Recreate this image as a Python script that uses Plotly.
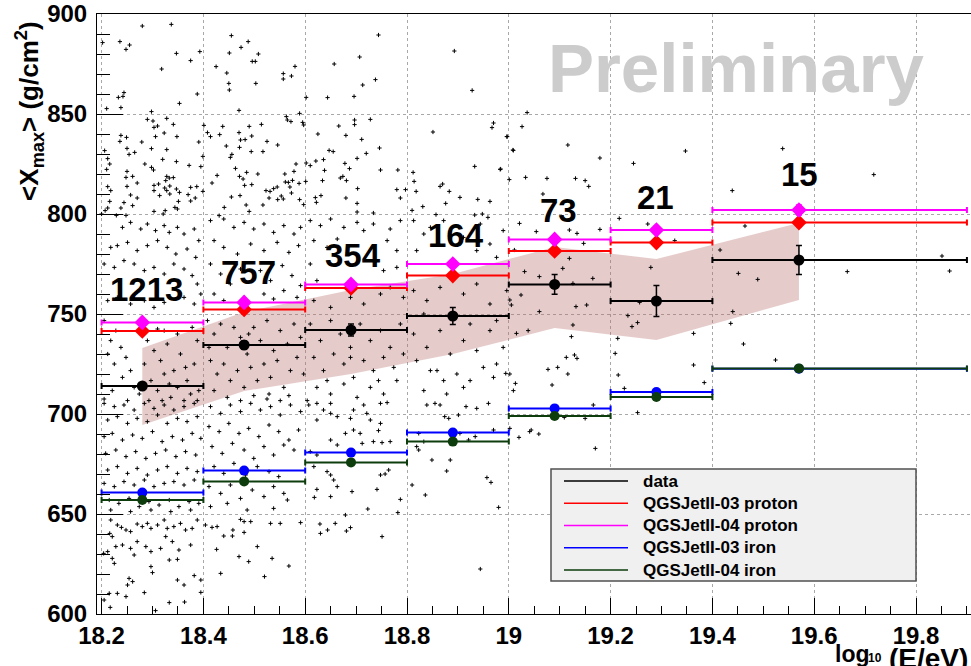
import plotly.graph_objects as go

# ---------------- data ----------------
bin_edges = [18.2, 18.4, 18.6, 18.8, 19.0, 19.2, 19.4, 19.9]
bin_centers = [18.28, 18.48, 18.69, 18.89, 19.09, 19.29, 19.57]
n_events = ["1213", "757", "354", "164", "73", "21", "15"]
label_x = [18.288, 18.488, 18.693, 18.897, 19.097, 19.289, 19.571]
label_y = [762.5, 770.7, 779.2, 789.2, 801.7, 808.2, 820.0]

data_xmax = [714.0, 734.5, 742.0, 749.0, 764.8, 756.5, 777.0]
data_err = [1.5, 2.0, 3.0, 4.3, 4.9, 7.8, 7.3]
qgs03_proton = [741.5, 752.3, 763.0, 769.2, 781.5, 785.7, 795.7]
qgs03_proton_err = [1.5, 1.5, 1.5, 1.5, 1.5, 1.5, 2.0]
qgs04_proton = [745.8, 755.8, 764.8, 775.0, 787.3, 792.0, 802.0]
qgs04_proton_err = [1.5, 1.5, 1.5, 1.5, 1.5, 1.5, 2.5]
qgs03_iron = [660.7, 671.7, 680.7, 690.7, 702.8, 711.0, 722.6]
qgs04_iron = [657.0, 666.3, 675.8, 686.2, 699.0, 708.5, 722.8]

band_x = [18.28, 18.48, 18.69, 18.89, 19.09, 19.29, 19.57]
band_hi = [733.0, 751.0, 762.0, 770.0, 783.5, 777.5, 795.5]
band_lo = [694.5, 711.5, 720.0, 730.0, 743.0, 737.0, 757.0]

x_tick_vals = [18.2, 18.4, 18.6, 18.8, 19.0, 19.2, 19.4, 19.6, 19.8]
x_tick_text = ["18.2", "18.4", "18.6", "18.8", "19", "19.2", "19.4", "19.6", "19.8"]
y_tick_vals = [600, 650, 700, 750, 800, 850, 900]

legend_names = ["data", "QGSJetII-03 proton", "QGSJetII-04 proton",
                "QGSJetII-03 iron", "QGSJetII-04 iron"]
legend_colors = ["#000000", "#ff0000", "#ff00ff", "#0000ff", "#0d3d0d"]

# individual events (log10 E, Xmax)
events_high = [
    (18.280, 894.0), (18.337, 894.8), (18.202, 885.7), (18.236, 886.2), (18.248, 882.3),
    (18.255, 884.5), (18.347, 880.3), (18.318, 872.5), (18.375, 876.7), (18.393, 881.2),
    (18.233, 858.3), (18.242, 858.8), (18.244, 860.7), (18.388, 860.0), (18.353, 855.3),
    (18.210, 852.7), (18.238, 853.2), (18.455, 889.2), (18.488, 886.2), (18.474, 883.3),
    (18.451, 880.5), (18.508, 880.0), (18.496, 876.3), (18.502, 876.3), (18.425, 873.7),
    (18.446, 870.5), (18.450, 865.3), (18.451, 862.0), (18.503, 865.3), (18.557, 870.2),
    (18.557, 867.5), (18.573, 869.0), (18.580, 873.8), (18.470, 851.8), (18.589, 850.3),
    (18.744, 889.5), (18.707, 878.5), (18.657, 875.0), (18.713, 864.5), (18.738, 867.2),
    (18.696, 858.8), (18.644, 858.2), (18.602, 858.3), (18.893, 881.5), (18.928, 861.8),
    (19.036, 850.7), (19.026, 843.7), (18.996, 838.7), (19.008, 832.0), (19.116, 834.5),
    (19.179, 828.0), (18.984, 822.5), (19.033, 818.3), (19.075, 817.8), (19.131, 817.8),
    (19.150, 816.7), (19.157, 813.8), (19.067, 810.0), (19.245, 825.3), (19.347, 831.5),
    (19.538, 832.7), (19.717, 819.7), (19.439, 811.7),
]
events_800_850 = [
    (18.290, 847.3), (18.298, 851.2), (18.301, 846.5), (18.303, 843.3), (18.310, 844.0),
    (18.328, 847.8), (18.341, 844.8), (18.323, 840.5), (18.306, 838.7), (18.348, 838.7),
    (18.238, 839.3), (18.249, 838.3), (18.236, 836.3), (18.279, 836.0), (18.206, 831.7),
    (18.250, 832.8), (18.254, 829.8), (18.265, 830.8), (18.298, 832.7), (18.328, 832.2),
    (18.212, 827.7), (18.216, 825.0), (18.210, 822.3), (18.320, 827.3), (18.347, 826.2),
    (18.285, 825.0), (18.298, 823.3), (18.302, 822.0), (18.372, 824.3), (18.395, 823.7),
    (18.391, 836.0), (18.399, 828.8), (18.401, 844.3), (18.250, 821.3), (18.248, 818.3),
    (18.261, 818.8), (18.270, 815.5), (18.250, 813.8), (18.212, 813.7), (18.218, 811.7),
    (18.257, 809.5), (18.270, 808.0), (18.261, 804.2), (18.244, 805.7), (18.238, 803.0),
    (18.216, 806.3), (18.207, 801.7), (18.212, 803.0), (18.303, 814.3), (18.312, 815.0),
    (18.328, 818.8), (18.333, 818.0), (18.341, 818.2), (18.326, 816.7), (18.303, 811.7),
    (18.324, 813.0), (18.328, 811.7), (18.334, 814.0), (18.334, 810.0), (18.314, 809.2),
    (18.347, 812.5), (18.353, 810.8), (18.351, 806.3), (18.344, 803.3), (18.349, 802.5),
    (18.303, 801.3), (18.325, 801.7), (18.370, 809.7), (18.375, 813.3), (18.387, 813.7),
    (18.384, 808.0), (18.375, 806.5), (18.399, 811.3), (18.229, 799.3), (18.248, 799.3),
    (18.200, 800.0), (18.321, 800.0),
    (18.408, 840.7), (18.414, 838.7), (18.432, 839.7), (18.438, 843.8), (18.445, 834.0),
    (18.456, 829.8), (18.453, 828.3), (18.470, 840.7), (18.473, 837.0), (18.482, 837.2),
    (18.471, 833.3), (18.490, 843.8), (18.495, 839.0), (18.494, 831.2), (18.514, 844.8),
    (18.517, 831.2), (18.525, 836.3), (18.546, 834.5), (18.563, 848.7), (18.565, 847.0),
    (18.572, 846.2), (18.595, 845.8), (18.597, 844.5), (18.463, 822.8), (18.485, 820.8),
    (18.507, 820.0), (18.471, 818.8), (18.478, 817.5), (18.481, 814.3), (18.495, 814.7),
    (18.427, 819.3), (18.417, 815.5), (18.455, 808.5), (18.472, 809.2), (18.441, 803.3),
    (18.431, 799.2), (18.484, 804.5), (18.490, 801.3), (18.517, 804.5), (18.523, 811.7),
    (18.529, 808.0), (18.531, 811.3), (18.538, 812.7), (18.545, 813.5), (18.546, 807.2),
    (18.553, 809.0), (18.557, 807.5), (18.573, 810.5), (18.561, 816.0), (18.567, 815.8),
    (18.570, 813.5), (18.575, 816.8), (18.578, 821.3), (18.582, 825.0), (18.588, 815.3),
    (18.589, 807.2), (18.597, 804.7), (18.560, 820.0),
    (18.602, 825.5), (18.610, 824.2), (18.621, 826.5), (18.625, 840.0), (18.636, 827.2),
    (18.638, 821.8), (18.647, 831.8), (18.655, 831.2), (18.666, 844.0), (18.680, 839.3),
    (18.687, 822.7), (18.678, 825.3), (18.669, 818.0), (18.674, 818.8), (18.681, 816.7),
    (18.680, 808.0), (18.702, 827.8), (18.703, 812.7), (18.697, 847.0), (18.697, 844.7),
    (18.711, 837.3), (18.720, 830.3), (18.728, 847.3), (18.746, 833.0), (18.748, 822.0),
    (18.782, 822.0), (18.601, 816.3), (18.620, 808.2), (18.622, 805.8), (18.631, 809.2),
    (18.634, 816.7), (18.702, 805.3), (18.702, 801.0), (18.734, 800.5), (18.780, 812.2),
    (18.787, 808.0), (18.797, 812.2),
    (18.812, 820.8), (18.814, 816.3), (18.818, 811.3), (18.810, 801.8), (18.831, 803.7),
    (18.851, 841.0), (18.865, 813.8), (18.870, 815.0), (18.876, 805.3), (18.883, 811.3),
    (18.904, 808.3), (18.933, 823.8), (18.939, 807.3), (18.963, 806.3), (18.967, 843.2),
    (18.970, 845.5), (18.983, 822.3), (18.997, 838.7), (19.009, 831.8), (19.001, 817.2),
    (18.857, 799.7), (18.933, 799.5), (18.948, 800.0), (18.959, 798.3),
]
events_700_800 = [
    (18.241, 793.3), (18.257, 795.8), (18.277, 792.5), (18.290, 795.0), (18.306, 791.7),
    (18.323, 794.2), (18.333, 790.8), (18.349, 793.3), (18.362, 790.0), (18.382, 792.5),
    (18.391, 786.7), (18.218, 783.3), (18.231, 784.2), (18.251, 785.8), (18.270, 781.7),
    (18.290, 784.2), (18.310, 786.7), (18.329, 783.3), (18.346, 780.0), (18.368, 782.5),
    (18.385, 778.3), (18.205, 775.0), (18.225, 773.3), (18.244, 776.7), (18.264, 775.0),
    (18.284, 771.7), (18.303, 773.3), (18.323, 770.0), (18.342, 775.0), (18.362, 772.5),
    (18.378, 769.2), (18.388, 765.0), (18.212, 756.7), (18.231, 758.3), (18.257, 755.0),
    (18.284, 756.7), (18.303, 753.3), (18.323, 755.8), (18.362, 758.3), (18.382, 755.0),
    (18.395, 760.0),
    (18.205, 746.7), (18.218, 736.7), (18.228, 741.7), (18.238, 733.3), (18.248, 728.3),
    (18.212, 730.0), (18.225, 725.0), (18.257, 721.7), (18.241, 718.3), (18.264, 713.3),
    (18.221, 711.7), (18.205, 707.5), (18.251, 706.7), (18.290, 736.7), (18.303, 731.7),
    (18.316, 726.7), (18.329, 735.0), (18.342, 721.7), (18.355, 730.0), (18.368, 716.7),
    (18.382, 725.0), (18.388, 736.7), (18.297, 716.7), (18.310, 711.7), (18.323, 720.0),
    (18.336, 708.3), (18.349, 713.3), (18.362, 706.7), (18.375, 710.0), (18.391, 711.7),
    (18.284, 725.0), (18.274, 710.0), (18.293, 706.7), (18.319, 706.7), (18.333, 715.0),
    (18.365, 723.3), (18.349, 740.0), (18.323, 741.7), (18.378, 743.3), (18.310, 742.5),
    (18.388, 706.7),
    (18.414, 796.7), (18.440, 797.5), (18.460, 793.3), (18.480, 795.8), (18.499, 792.5),
    (18.519, 795.0), (18.538, 790.8), (18.558, 794.2), (18.578, 790.0), (18.591, 793.3),
    (18.421, 786.7), (18.440, 783.3), (18.467, 780.0), (18.493, 785.0), (18.519, 781.7),
    (18.545, 785.8), (18.568, 780.8), (18.587, 784.2), (18.414, 775.0), (18.434, 770.0),
    (18.453, 765.0), (18.473, 772.5), (18.512, 771.7), (18.532, 766.7), (18.555, 774.2),
    (18.574, 769.2), (18.591, 764.2), (18.421, 760.0), (18.440, 756.7), (18.519, 760.0),
    (18.538, 757.5), (18.558, 761.7), (18.584, 758.3),
    (18.408, 746.7), (18.421, 740.0), (18.434, 745.0), (18.447, 733.3), (18.460, 743.3),
    (18.473, 738.3), (18.486, 730.0), (18.499, 743.3), (18.512, 736.7), (18.525, 746.7),
    (18.538, 731.7), (18.551, 741.7), (18.565, 735.0), (18.578, 745.0), (18.591, 738.3),
    (18.414, 726.7), (18.427, 720.0), (18.440, 725.0), (18.453, 716.7), (18.467, 721.7),
    (18.480, 713.3), (18.493, 723.3), (18.506, 716.7), (18.519, 725.0), (18.532, 718.3),
    (18.545, 726.7), (18.558, 713.3), (18.571, 721.7), (18.584, 728.3), (18.597, 720.0),
    (18.421, 711.7), (18.447, 708.3), (18.473, 706.7), (18.499, 709.2), (18.525, 707.5),
    (18.551, 706.7), (18.411, 733.3), (18.489, 740.0), (18.529, 710.0), (18.568, 709.2),
    (18.610, 796.7), (18.630, 794.2), (18.650, 797.5), (18.676, 793.3), (18.702, 795.8),
    (18.715, 791.7), (18.734, 795.0), (18.767, 792.5), (18.787, 796.7), (18.617, 786.7),
    (18.643, 783.3), (18.663, 787.5), (18.761, 786.7), (18.780, 781.7), (18.610, 775.0),
    (18.623, 766.7), (18.754, 771.7), (18.780, 773.3), (18.767, 763.3), (18.793, 758.3),
    (18.617, 756.7), (18.650, 753.3), (18.689, 758.3), (18.715, 755.0), (18.748, 760.0),
    (18.610, 745.0), (18.630, 736.7), (18.650, 746.7), (18.669, 740.0), (18.689, 733.3),
    (18.708, 745.0), (18.728, 736.7), (18.748, 741.7), (18.767, 733.3), (18.787, 745.0),
    (18.617, 728.3), (18.636, 721.7), (18.656, 730.0), (18.676, 725.0), (18.695, 718.3),
    (18.715, 726.7), (18.734, 721.7), (18.754, 728.3), (18.774, 723.3), (18.793, 730.0),
    (18.623, 713.3), (18.650, 710.0), (18.676, 715.0), (18.702, 708.3), (18.728, 713.3),
    (18.754, 710.0), (18.780, 716.7), (18.604, 706.7), (18.643, 716.7), (18.689, 728.3),
    (18.744, 716.7),
    (18.813, 796.7), (18.833, 790.0), (18.846, 793.3), (18.872, 796.7), (18.911, 788.3),
    (18.944, 795.0), (18.963, 785.0), (18.989, 791.7), (18.819, 781.7), (18.937, 781.7),
    (18.976, 778.3), (18.813, 761.7), (18.839, 756.7), (18.865, 763.3), (18.911, 760.0),
    (18.937, 765.0), (18.963, 755.0), (18.996, 761.7), (18.833, 750.0), (18.924, 745.0),
    (18.976, 746.7), (18.813, 740.0), (18.839, 733.3), (18.865, 741.7), (18.885, 730.0),
    (18.911, 736.7), (18.937, 731.7), (18.963, 741.7), (18.989, 733.3), (18.819, 726.7),
    (18.846, 721.7), (18.872, 716.7), (18.898, 720.0), (18.924, 716.7), (18.950, 723.3),
    (18.976, 725.0), (19.002, 720.0), (18.833, 711.7), (18.878, 710.0), (18.911, 713.3),
    (18.970, 718.3), (19.009, 711.7), (18.859, 721.7),
    (19.021, 795.3), (19.054, 791.2), (19.119, 792.0), (19.134, 790.3), (19.179, 792.3),
    (19.147, 785.3), (19.011, 782.0), (19.119, 777.8), (19.106, 772.8), (19.031, 771.2),
    (19.060, 768.7), (19.126, 765.3), (19.165, 767.8), (19.024, 759.5), (19.002, 757.0),
    (19.005, 754.5), (19.060, 751.2), (19.132, 753.7), (19.153, 754.5), (19.126, 744.5),
    (19.038, 741.7), (19.015, 740.3), (19.123, 738.7), (19.077, 722.3), (19.096, 723.3),
    (19.113, 728.3), (19.129, 729.5), (19.134, 727.8), (19.116, 720.0), (18.994, 720.3),
    (19.013, 715.3), (19.085, 714.5),
    (19.217, 797.8), (19.273, 795.0), (19.326, 786.7), (19.279, 773.3), (19.257, 755.8),
    (19.234, 749.2), (19.253, 745.7), (19.242, 743.7), (19.363, 740.3), (19.214, 737.8),
    (19.209, 730.3), (19.363, 724.5), (19.215, 719.5), (19.384, 715.7), (19.227, 712.8),
    (19.464, 794.0), (19.415, 782.0), (19.451, 770.3), (19.489, 767.3), (19.440, 751.2),
    (19.436, 745.3), (19.461, 735.0), (19.524, 727.0), (19.665, 771.2), (19.851, 779.0),
    (19.866, 771.5),
]
events_low = [
    (18.205, 705.3), (18.225, 703.7), (18.244, 704.5), (18.264, 702.0), (18.284, 705.3),
    (18.303, 702.8), (18.323, 704.5), (18.342, 702.0), (18.362, 703.7), (18.382, 705.3),
    (18.212, 697.0), (18.231, 698.7), (18.251, 695.3), (18.270, 697.8), (18.290, 696.2),
    (18.310, 699.5), (18.329, 695.3), (18.349, 697.8), (18.368, 696.2), (18.388, 698.7),
    (18.205, 688.7), (18.221, 690.3), (18.241, 687.0), (18.261, 689.5), (18.280, 687.8),
    (18.300, 691.2), (18.319, 686.2), (18.339, 688.7), (18.359, 687.0), (18.378, 690.3),
    (18.395, 687.8), (18.208, 680.3), (18.228, 682.0), (18.248, 678.7), (18.267, 681.2),
    (18.287, 677.8), (18.306, 680.3), (18.326, 682.0), (18.346, 678.7), (18.365, 681.2),
    (18.385, 679.5), (18.212, 672.0), (18.231, 673.7), (18.251, 670.3), (18.270, 672.8),
    (18.290, 669.5), (18.310, 672.0), (18.329, 673.7), (18.349, 670.3), (18.368, 672.8),
    (18.388, 671.2), (18.205, 665.3), (18.225, 663.7), (18.244, 666.2), (18.264, 664.5),
    (18.284, 667.0), (18.303, 663.7), (18.323, 665.3), (18.342, 666.2), (18.362, 664.5),
    (18.382, 667.0), (18.215, 657.0), (18.234, 655.3), (18.254, 657.8), (18.274, 653.7),
    (18.293, 656.2), (18.313, 654.5), (18.333, 657.0), (18.352, 653.7), (18.372, 656.2),
    (18.391, 655.3), (18.218, 652.0), (18.257, 651.2), (18.297, 652.0), (18.336, 651.2),
    (18.375, 652.0),
    (18.414, 703.7), (18.434, 700.3), (18.453, 704.5), (18.473, 701.2), (18.493, 705.3),
    (18.512, 702.0), (18.532, 703.7), (18.551, 699.5), (18.571, 704.5), (18.591, 701.2),
    (18.411, 693.7), (18.431, 691.2), (18.450, 695.3), (18.470, 690.3), (18.489, 692.8),
    (18.509, 688.7), (18.529, 694.5), (18.548, 691.2), (18.568, 687.0), (18.587, 692.0),
    (18.417, 683.7), (18.437, 680.3), (18.457, 685.3), (18.480, 682.0), (18.499, 677.8),
    (18.519, 683.7), (18.538, 679.5), (18.558, 684.5), (18.578, 682.0), (18.421, 673.7),
    (18.440, 670.3), (18.460, 675.3), (18.483, 669.5), (18.506, 673.7), (18.529, 671.2),
    (18.548, 668.7), (18.411, 663.7), (18.434, 660.3), (18.453, 664.5), (18.473, 657.8),
    (18.496, 662.0), (18.519, 658.7), (18.538, 663.7), (18.558, 660.3), (18.414, 653.7),
    (18.447, 655.3), (18.486, 652.0), (18.538, 652.8), (18.565, 657.0),
    (18.607, 704.5), (18.636, 702.0), (18.650, 700.3), (18.623, 697.0), (18.610, 681.2),
    (18.623, 679.5), (18.617, 673.7), (18.643, 671.2), (18.650, 669.5), (18.656, 667.0),
    (18.663, 663.7), (18.623, 662.3), (18.618, 658.3), (18.650, 658.7), (18.692, 661.2),
    (18.741, 662.3), (18.757, 670.0), (18.764, 672.0), (18.748, 669.5), (18.787, 657.3),
    (18.782, 650.7), (18.723, 652.5), (18.650, 687.0), (18.663, 684.5), (18.679, 690.3),
    (18.695, 692.0), (18.708, 690.3), (18.712, 685.3), (18.734, 686.2), (18.751, 685.7),
    (18.767, 686.2), (18.744, 691.7), (18.728, 697.0), (18.748, 695.3), (18.695, 702.0),
    (18.715, 704.5), (18.748, 705.3), (18.761, 705.7), (18.650, 705.3), (18.623, 705.3),
    (18.663, 698.7), (18.689, 697.8), (18.721, 700.3),
    (18.819, 683.7), (18.823, 682.0), (18.833, 686.2), (18.849, 677.0), (18.810, 664.5),
    (18.836, 659.5), (18.878, 671.5), (18.885, 677.0), (18.874, 698.7), (18.882, 697.8),
    (18.901, 699.5), (18.904, 690.3), (18.921, 687.0), (18.934, 688.7), (18.957, 668.2),
    (18.965, 665.8), (18.970, 692.0), (18.980, 653.3), (18.916, 703.7), (18.937, 702.8),
    (18.960, 705.3), (18.839, 704.5), (18.855, 705.3), (18.865, 704.5), (18.823, 690.3),
    (19.166, 704.5), (19.109, 698.3), (19.150, 697.8), (19.253, 700.7), (19.002, 692.8),
    (19.020, 688.3), (19.041, 691.2), (19.044, 692.0), (19.059, 690.0), (19.170, 682.8),
    (18.218, 647.0), (18.216, 640.3), (18.221, 638.7), (18.231, 644.5), (18.239, 643.3),
    (18.248, 642.0), (18.257, 641.2), (18.270, 645.0), (18.280, 643.7), (18.290, 645.3),
    (18.297, 642.8), (18.310, 644.5), (18.323, 647.0), (18.329, 642.8), (18.342, 643.7),
    (18.355, 645.3), (18.365, 642.0), (18.378, 642.8), (18.388, 647.0), (18.204, 630.3),
    (18.212, 631.2), (18.228, 633.7), (18.241, 634.5), (18.257, 632.8), (18.270, 636.2),
    (18.287, 633.7), (18.297, 631.2), (18.316, 632.8), (18.333, 627.0), (18.349, 627.3),
    (18.352, 632.0), (18.375, 634.5), (18.225, 625.3), (18.254, 617.8), (18.261, 616.2),
    (18.251, 614.5), (18.297, 623.7), (18.300, 620.7), (18.349, 617.0), (18.362, 614.5),
    (18.382, 619.2), (18.395, 617.0), (18.395, 610.8), (18.215, 610.3), (18.231, 610.3),
    (18.284, 610.7), (18.248, 608.7), (18.205, 607.0), (18.217, 603.3), (18.306, 601.7),
    (18.333, 605.7), (18.363, 606.0), (18.339, 636.2), (18.326, 638.7), (18.264, 629.5),
    (18.221, 627.8),
    (18.404, 644.5), (18.417, 643.3), (18.427, 643.7), (18.440, 639.0), (18.457, 639.0),
    (18.458, 642.0), (18.473, 647.3), (18.480, 646.2), (18.493, 646.2), (18.480, 640.8),
    (18.506, 633.7), (18.532, 645.3), (18.551, 645.3), (18.591, 645.7), (18.426, 632.3),
    (18.470, 628.7), (18.489, 626.2), (18.535, 627.8), (18.568, 624.0), (18.434, 620.3),
    (18.520, 618.7),
    (18.629, 645.0), (18.630, 640.3), (18.644, 642.0), (18.659, 645.3), (18.679, 649.5),
    (18.681, 641.5), (18.689, 643.2), (18.751, 638.7), (18.944, 622.5),
]

all_events = events_high + events_800_850 + events_700_800 + events_low
ev_x = [p[0] for p in all_events]
ev_y = [p[1] for p in all_events]

FONT = "Liberation Sans"

fig = go.Figure()

# systematic band
fig.add_trace(go.Scatter(
    x=band_x + band_x[::-1], y=band_hi + band_lo[::-1],
    fill="toself", mode="lines", line=dict(width=0, color="rgba(0,0,0,0)"),
    fillcolor="rgba(185,110,110,0.36)", hoverinfo="skip", showlegend=False))

# individual events
fig.add_trace(go.Scatter(
    x=ev_x, y=ev_y, mode="markers",
    marker=dict(symbol="cross-thin", size=3, line=dict(width=1, color="black"), color="black"),
    hoverinfo="skip", showlegend=False))

err_plus = [bin_edges[i + 1] - c for i, c in enumerate(bin_centers)]
err_minus = [c - bin_edges[i] for i, c in enumerate(bin_centers)]


def model_trace(yvals, color, symbol, size, yerr=None):
    d = dict(x=bin_centers, y=yvals, mode="markers",
             marker=dict(symbol=symbol, size=size, color=color),
             error_x=dict(type="data", symmetric=False, array=err_plus, arrayminus=err_minus,
                          color=color, thickness=2, width=3),
             hoverinfo="skip", showlegend=False)
    if yerr is not None:
        d["error_y"] = dict(type="data", array=yerr, color=color, thickness=1.5, width=3)
    return go.Scatter(**d)


fig.add_trace(model_trace(qgs03_iron, legend_colors[3], "circle", 10))
fig.add_trace(model_trace(qgs04_iron, legend_colors[4], "circle", 10))
fig.add_trace(model_trace(qgs03_proton, legend_colors[1], "diamond", 12, qgs03_proton_err))
fig.add_trace(model_trace(qgs04_proton, legend_colors[2], "diamond", 12, qgs04_proton_err))
fig.add_trace(model_trace(data_xmax, legend_colors[0], "circle", 11, data_err))

annotations = []
for t, lx, ly in zip(n_events, label_x, label_y):
    annotations.append(dict(x=lx, y=ly, xref="x", yref="y", text=t, showarrow=False,
                            font=dict(family=FONT, size=33, color="black", weight="bold"),
                            xanchor="center", yanchor="middle"))

annotations.append(dict(x=19.446, y=872.0, xref="x", yref="y", text="Preliminary",
                        showarrow=False, xanchor="center", yanchor="middle", yshift=2,
                        font=dict(family=FONT, size=69, color="#cccccc", weight="bold")))

annotations.append(dict(x=-0.077, y=0.838, xref="paper", yref="paper",
                        text="&lt;X<sub>max</sub>&gt; (g/cm<sup>2</sup>)", textangle=-90,
                        showarrow=False, xanchor="center", yanchor="middle",
                        font=dict(family=FONT, size=26, color="black", weight="bold")))

# x-axis title: "log", small subscript "10", then "(E/eV)" right-aligned at the edge
annotations.append(dict(x=(833 - 97) / 874, y=-0.042, xref="paper", yref="paper",
                        text="log", showarrow=False,
                        xanchor="left", yanchor="top",
                        font=dict(family=FONT, size=23, color="black", weight="bold")))
annotations.append(dict(x=(866 - 97) / 874, y=(614 - 658) / 600, xref="paper", yref="paper",
                        text="10", showarrow=False,
                        xanchor="left", yanchor="middle",
                        font=dict(family=FONT, size=12, color="black", weight="bold")))
annotations.append(dict(x=(970 - 97) / 874, y=-0.045, xref="paper", yref="paper",
                        text="(E/eV)", showarrow=False,
                        xanchor="right", yanchor="top",
                        font=dict(family=FONT, size=28, color="black", weight="bold")))

# legend box (manual, ROOT style)
shapes = []
lx0, lx1 = (551 - 97) / 874, (916 - 97) / 874
ly0, ly1 = (614 - 581) / 600, (614 - 469) / 600
shapes.append(dict(type="rect", xref="paper", yref="paper", x0=lx0, x1=lx1, y0=ly0, y1=ly1,
                   fillcolor="#f0f0f0", line=dict(color="#505050", width=1.5), layer="above"))
row_top = (614 - 481) / 600
row_step = 22.25 / 600
for i, (name, col) in enumerate(zip(legend_names, legend_colors)):
    yy = row_top - i * row_step
    shapes.append(dict(type="line", xref="paper", yref="paper",
                       x0=(564 - 97) / 874, x1=(628 - 97) / 874, y0=yy, y1=yy,
                       line=dict(color=col, width=1.5), layer="above"))
    annotations.append(dict(x=(641 - 97) / 874, y=yy, xref="paper", yref="paper", text=name,
                            showarrow=False, xanchor="left", yanchor="middle",
                            font=dict(family=FONT, size=17, color="black", weight="bold")))

fig.update_layout(
    width=971, height=666,
    margin=dict(l=97, r=0, t=14, b=52),
    paper_bgcolor="white", plot_bgcolor="white",
    showlegend=False,
    annotations=annotations, shapes=shapes,
    xaxis=dict(range=[18.191, 19.908], tickvals=x_tick_vals, ticktext=x_tick_text,
               automargin=False,
               ticks="inside", ticklen=16, tickwidth=1, tickcolor="black",
               showline=True, linecolor="black", linewidth=1, mirror=True,
               showgrid=True, gridcolor="#a8a8a8", griddash="dot", gridwidth=1,
               zeroline=False,
               tickfont=dict(family=FONT, size=24, color="black", weight="bold"),
               minor=dict(ticks="inside", ticklen=8, dtick=0.05, tick0=18.2,
                          tickcolor="black", showgrid=False)),
    yaxis=dict(range=[600, 900], tickvals=y_tick_vals,
               automargin=False,
               ticks="inside", ticklen=26, tickwidth=1, tickcolor="black",
               showline=True, linecolor="black", linewidth=1, mirror=True,
               showgrid=True, gridcolor="#a8a8a8", griddash="dot", gridwidth=1,
               zeroline=False, ticklabelstandoff=4,
               tickfont=dict(family=FONT, size=24, color="black", weight="bold"),
               minor=dict(ticks="inside", ticklen=13, dtick=10, tick0=600,
                          tickcolor="black", showgrid=False)),
)

fig.write_html("out.html", config={"displayModeBar": False},
               post_script="document.body.style.margin='0';document.body.style.overflow='hidden';")
